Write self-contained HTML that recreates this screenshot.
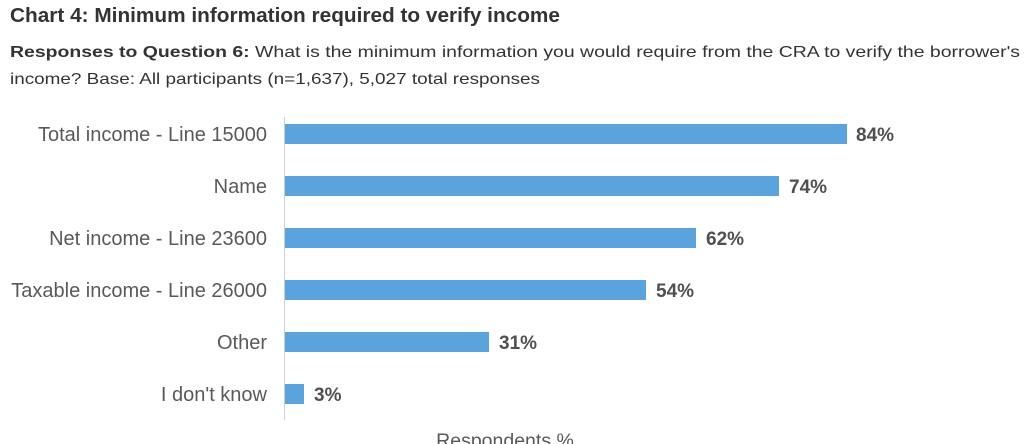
<!DOCTYPE html>
<html><head><style>
html,body{margin:0;padding:0;background:#fff;}
svg{display:block;}
</style></head><body>
<svg width="1024" height="444" xmlns="http://www.w3.org/2000/svg" font-family="'Liberation Sans', sans-serif">
<text x="10" y="22" font-size="20" font-weight="bold" fill="#333" textLength="550" lengthAdjust="spacingAndGlyphs">Chart 4: Minimum information required to verify income</text>
<text x="10" y="57" font-size="16" fill="#333" textLength="1010" lengthAdjust="spacingAndGlyphs"><tspan font-weight="bold">Responses to Question 6:</tspan> What is the minimum information you would require from the CRA to verify the borrower's</text>
<text x="10" y="84" font-size="16" fill="#333" textLength="530" lengthAdjust="spacingAndGlyphs">income? Base: All participants (n=1,637), 5,027 total responses</text>
<line x1="284.5" y1="117" x2="284.5" y2="420" stroke="#d0d0d0" stroke-width="1"/>
<g fill="#5BA3DC">
<rect x="285" y="124" width="562" height="20"/>
<rect x="285" y="176" width="494" height="20"/>
<rect x="285" y="228" width="411" height="20"/>
<rect x="285" y="280" width="361" height="20"/>
<rect x="285" y="332" width="204" height="20"/>
<rect x="285" y="384" width="19" height="20"/>
</g>
<g font-size="20" fill="#595959" text-anchor="end">
<text x="267" y="141">Total income - Line 15000</text>
<text x="267" y="193">Name</text>
<text x="267" y="245">Net income - Line 23600</text>
<text x="267" y="297">Taxable income - Line 26000</text>
<text x="267" y="349">Other</text>
<text x="267" y="401">I don't know</text>
</g>
<g font-size="19" font-weight="bold" fill="#505050">
<text x="856" y="141">84%</text>
<text x="789" y="193">74%</text>
<text x="706" y="245">62%</text>
<text x="656" y="297">54%</text>
<text x="499" y="349">31%</text>
<text x="314" y="401">3%</text>
</g>
<text x="505" y="447" font-size="19.5" fill="#595959" text-anchor="middle">Respondents %</text>
</svg>
</body></html>
